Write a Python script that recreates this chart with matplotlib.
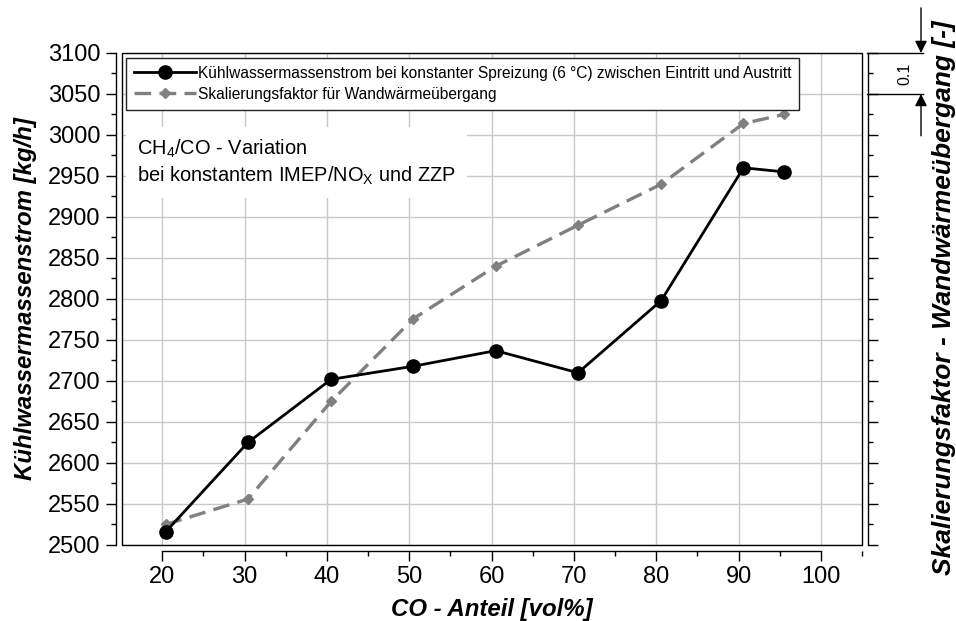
import matplotlib
matplotlib.use('Agg')
import matplotlib.pyplot as plt
from matplotlib.ticker import MultipleLocator
from matplotlib.patches import Rectangle

plt.rcParams['font.family'] = ['Liberation Sans', 'DejaVu Sans']
plt.rcParams['mathtext.fontset'] = 'custom'
plt.rcParams['mathtext.rm'] = 'Liberation Sans'
plt.rcParams['mathtext.it'] = 'Liberation Sans:italic'

# Data
co_anteil = [20.4, 30.4, 40.5, 50.5, 60.5, 70.5, 80.6, 90.6, 95.5]
kuehlwasser = [2516, 2625, 2702, 2718, 2737, 2710, 2798, 2960, 2955]
skalierung = [2525, 2556, 2675, 2776, 2840, 2890, 2940, 3014, 3025]

label_kw = 'Kühlwassermassenstrom bei konstanter Spreizung (6 °C) zwischen Eintritt und Austritt'
label_sk = 'Skalierungsfaktor für Wandwärmeübergang'

fig = plt.figure(figsize=(9.56, 6.21), dpi=100)
ax = fig.add_axes([0.1276, 0.1224, 0.7741, 0.7923])

ax.plot(co_anteil, kuehlwasser, color='black', lw=2, marker='o', ms=9.5,
        label=label_kw, zorder=4)
ax.plot(co_anteil, skalierung, color='#808080', lw=2.4, dashes=(5, 2.5),
        marker='D', ms=5.2, label=label_sk, zorder=3)

ax.set_xlim(15.1, 105)
ax.set_ylim(2500, 3100)
ax.xaxis.set_major_locator(MultipleLocator(10))
ax.xaxis.set_minor_locator(MultipleLocator(5))
ax.yaxis.set_major_locator(MultipleLocator(50))
ax.yaxis.set_minor_locator(MultipleLocator(25))
ax.set_xticks(range(20, 101, 10))

ax.grid(True, which='major', color='#c8c8c8', lw=1, zorder=0)
ax.set_axisbelow(True)

# offset axes, frame drawn separately
ax.spines['top'].set_visible(False)
ax.spines['left'].set_position(('outward', 4.5))
ax.spines['bottom'].set_position(('outward', 4))
ax.spines['right'].set_position(('outward', 4))
ax.spines['left'].set_bounds(2500, 3100)
ax.spines['right'].set_bounds(2500, 3100)
ax.spines['bottom'].set_bounds(20, 100)
for s in ['left', 'bottom', 'right']:
    ax.spines[s].set_linewidth(1)
ax.add_patch(Rectangle((0, 0), 1, 1, transform=ax.transAxes, fill=False,
                       ec='black', lw=1, clip_on=False, zorder=5))

ax.tick_params(axis='both', which='major', direction='out', length=7, width=1,
               labelsize=17, pad=4)
ax.tick_params(axis='both', which='minor', direction='out', length=3.5, width=1)
ax.tick_params(axis='y', which='both', right=True, labelright=False)

ax.set_xlabel('CO - Anteil [vol%]', fontsize=17.3, fontweight='bold',
              fontstyle='italic', labelpad=7)
ax.set_ylabel('Kühlwassermassenstrom [kg/h]', fontsize=17.3, fontweight='bold',
              fontstyle='italic', labelpad=8)
fig.text(0.987, 0.52, 'Skalierungsfaktor - Wandwärmeübergang [-]', rotation=90,
         fontsize=19, fontweight='bold', fontstyle='italic', ha='center', va='center')

leg = ax.legend(loc='upper left', bbox_to_anchor=(0.0054, 0.99), fontsize=11.2,
                frameon=True, fancybox=False, framealpha=1, edgecolor='#222222',
                handlelength=4.0, labelspacing=0.4, borderaxespad=0,
                handletextpad=0.1, borderpad=0.5)
leg.get_frame().set_linewidth(1)
leg.set_zorder(6)

ax.text(0.0203, 0.828, 'CH$_4$/CO - Variation\nbei konstantem IMEP/NO$_\\mathrm{X}$ und ZZP',
        transform=ax.transAxes, fontsize=14.4, va='top', ha='left', linespacing=1.3,
        bbox=dict(boxstyle='square,pad=0.55', fc='white', ec='none'), zorder=2)

# scale indicator on the right (0.1 corresponds to 50 kg/h)
yt = ax.get_yaxis_transform()
for yv in (3100, 3050):
    ax.plot([1.0068, 1.0824], [yv, yv], color='black', lw=1, transform=yt, clip_on=False)
ax.text(1.058, 3075, '0.1', rotation=90, fontsize=11.5, ha='center', va='center',
        transform=yt)
ax.annotate('', xy=(1.0797, 3100), xytext=(1.0797, 3155), xycoords=yt, textcoords=yt,
            arrowprops=dict(arrowstyle='-|>', color='black', lw=1,
                            mutation_scale=18, shrinkA=0, shrinkB=0))
ax.annotate('', xy=(1.0797, 3050), xytext=(1.0797, 2999), xycoords=yt, textcoords=yt,
            arrowprops=dict(arrowstyle='-|>', color='black', lw=1,
                            mutation_scale=18, shrinkA=0, shrinkB=0))

fig.savefig('out.png', dpi=100)
